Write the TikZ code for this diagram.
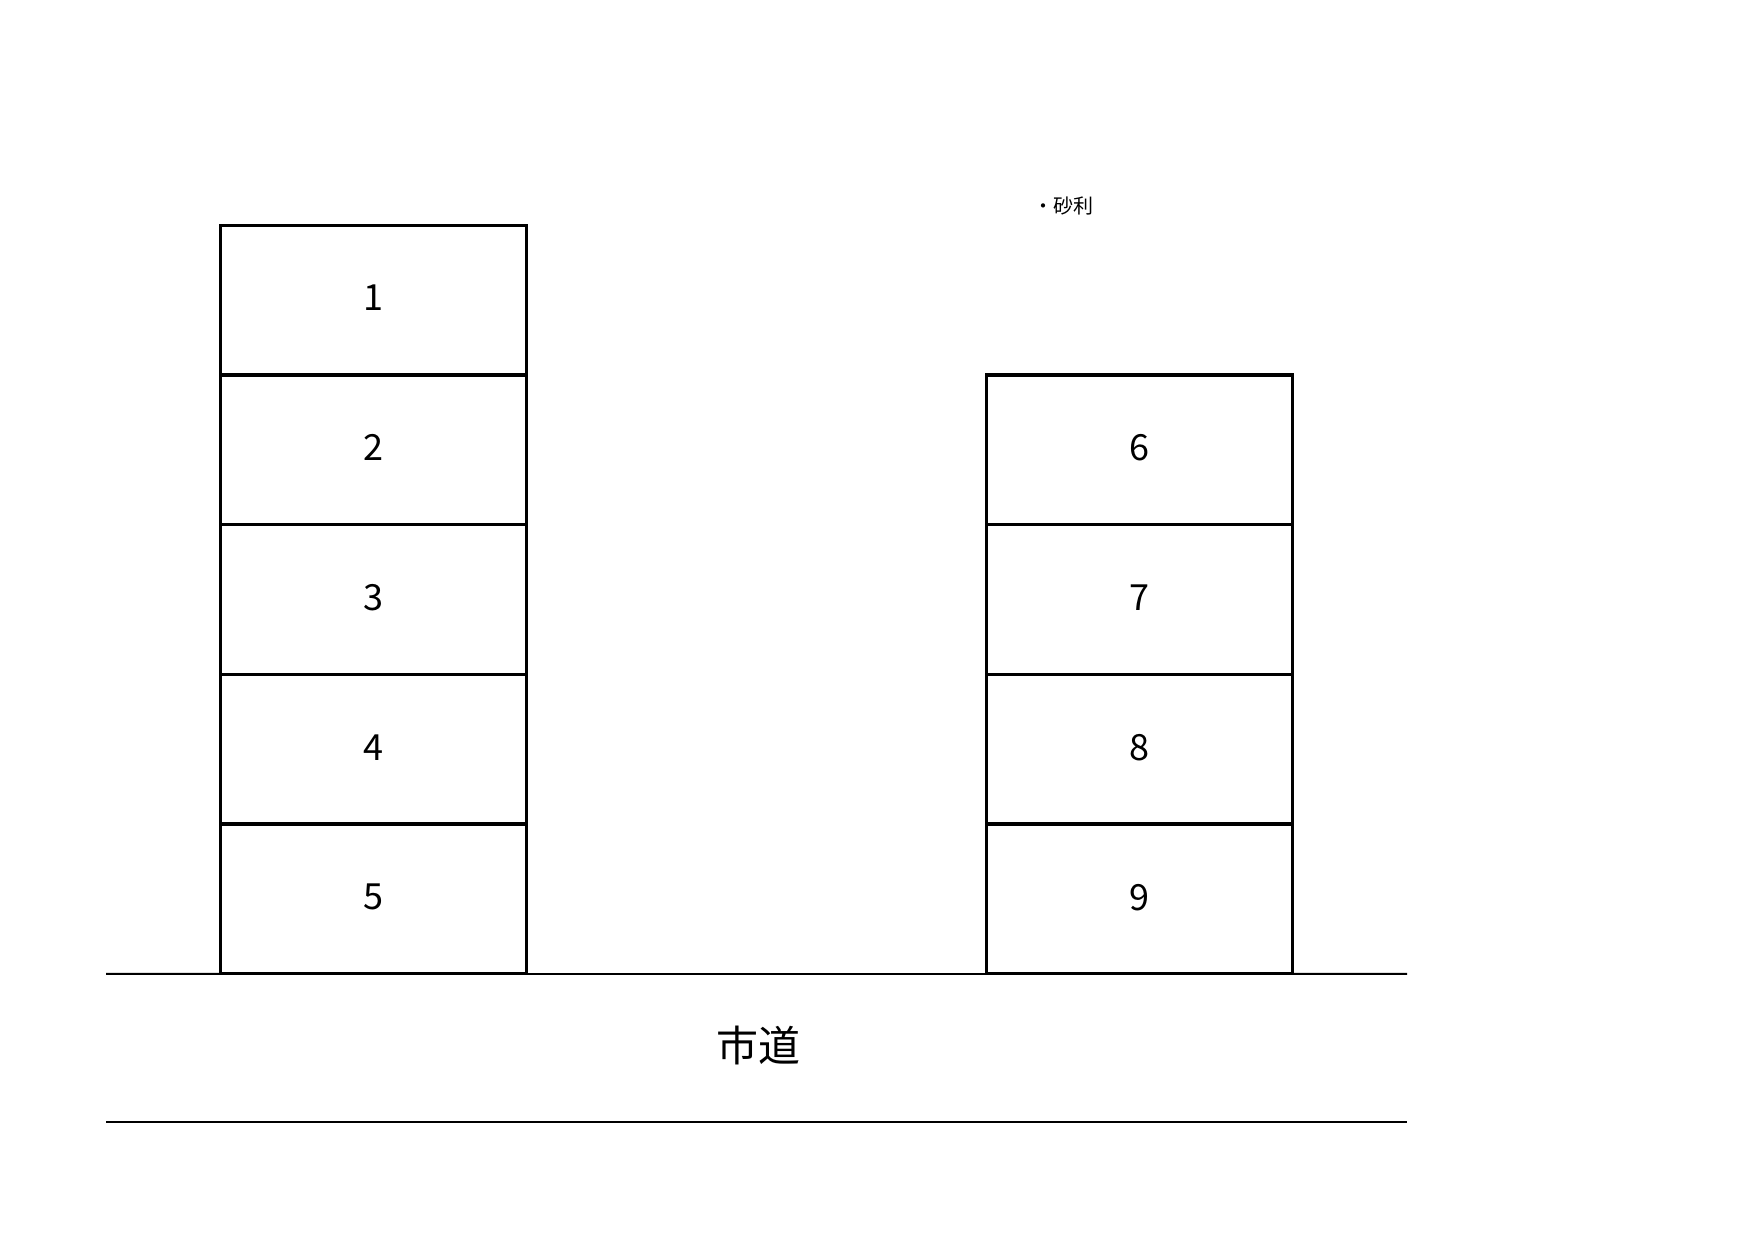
\documentclass[tikz,border=0pt]{standalone}
\usepackage{fontspec}
\setmainfont{Noto Sans CJK JP}
\begin{document}
\begin{tikzpicture}[x=1pt,y=-1pt,
  stall/.style={draw=black,line width=3.3pt,minimum width=306.6pt,minimum height=149.7pt,inner sep=0pt,outer sep=0pt,font=\fontsize{36}{40}\selectfont,anchor=north west,text depth=0pt},
  road/.style={draw=black,line width=2pt}]
\useasboundingbox (0,0) rectangle (1755,1241);
% left stack
\foreach \i in {1,...,5}{
  \node[stall] (L\i) at (220.2,{225.3+(\i-1)*149.7}) {\raisebox{4pt}{\i}};
}
% right stack
\foreach \i/\n in {1/6,2/7,3/8,4/9}{
  \node[stall] (R\i) at (986.2,{375+(\i-1)*149.7}) {\raisebox{4pt}{\n}};
}
% road
\coordinate (rA) at (106,973.8);
\coordinate (rB) at (1407,973.8);
\coordinate (rC) at (106,1122);
\coordinate (rD) at (1407,1122);
\draw[road] (rA) -- (L5.south west);
\draw[road] (L5.south east) -- (R4.south west);
\draw[road] (R4.south east) -- (rB);
\draw[road] (rC) -- (rD);
\node[font=\fontsize{42}{46}\selectfont,inner sep=0pt] (road) at (758,1045) {市道};
\node[font=\fontsize{20}{24}\selectfont,inner sep=0pt,anchor=west] (gravel) at (1033,206) {・砂利};
\end{tikzpicture}
\end{document}
